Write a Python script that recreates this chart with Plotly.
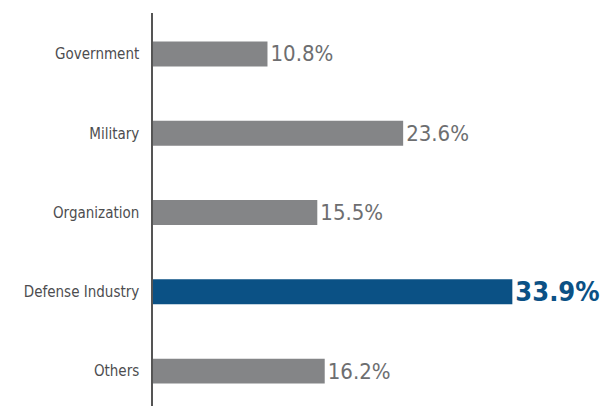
import plotly.graph_objects as go

categories = ["Government", "Military", "Organization", "Defense Industry", "Others"]
values = [10.8, 23.6, 15.5, 33.9, 16.2]
highlight = "Defense Industry"

GRAY = "#848587"
BLUE = "#0B5185"
FONT = "DejaVu Sans Condensed"

colors = [BLUE if c == highlight else GRAY for c in categories]
texts = [f"<b>{v}%</b>" if c == highlight else f"{v}%" for c, v in zip(categories, values)]
tcolors = [BLUE if c == highlight else "#6d6e70" for c in categories]
tsizes = [27 if c == highlight else 22 for c in categories]

fig = go.Figure(go.Bar(
    y=categories,
    x=values,
    orientation="h",
    marker=dict(color=colors, line=dict(width=0)),
    width=0.315,
    text=texts,
    textposition="outside",
    constraintext="none",
    cliponaxis=False,
    textfont=dict(color=tcolors, size=tsizes, family=FONT),
    hoverinfo="skip",
))

fig.update_layout(
    width=607, height=406,
    margin=dict(l=153, r=30, t=13, b=0),
    paper_bgcolor="white", plot_bgcolor="white",
    showlegend=False,
    xaxis=dict(range=[0, 40], visible=False, fixedrange=True),
    yaxis=dict(
        range=[4.44, -0.517],
        showline=True, linecolor="#555555", linewidth=1.5,
        showgrid=False, ticks="",
        ticklabelstandoff=9,
        tickfont=dict(family=FONT, size=15, color="#4d4d4f"),
        fixedrange=True,
    ),
)

fig.write_html("out.html", config={"displayModeBar": False},
               post_script="document.body.style.margin='0';")
